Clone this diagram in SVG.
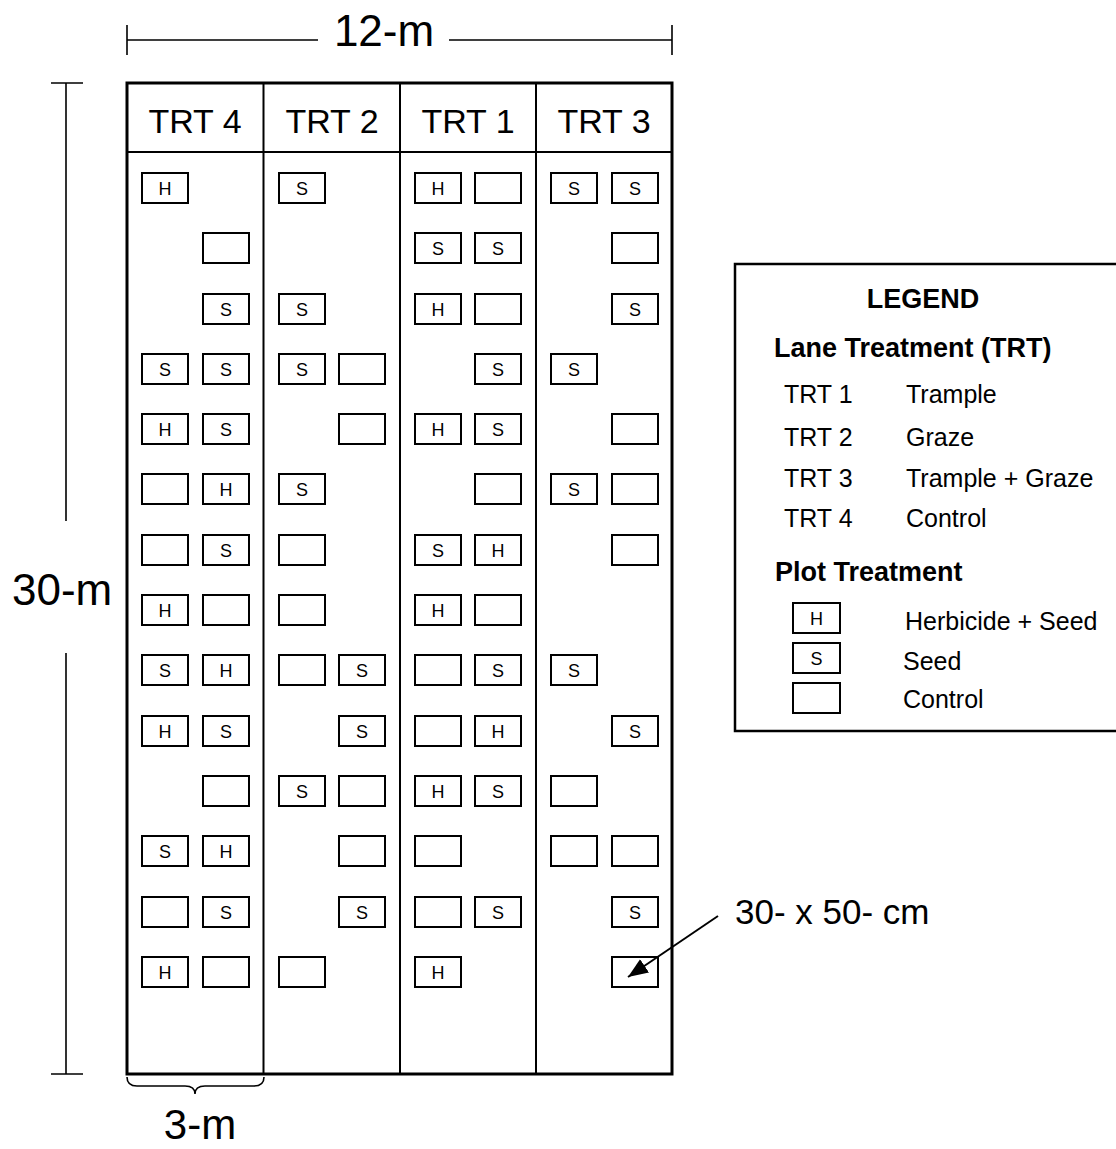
<svg xmlns="http://www.w3.org/2000/svg" width="1116" height="1149" viewBox="0 0 1116 1149">
<style>
text{font-family:"Liberation Sans",Arial,sans-serif;fill:#000}
.plot rect{fill:#fff;stroke:#000;stroke-width:2}
.plot text{font-size:18px;text-anchor:middle}
.dim{stroke:#000;stroke-width:1.6;fill:none}
.big{font-size:44px}
.hdr{font-size:34px;text-anchor:middle}
.lg{font-size:25px}
.lgb{font-size:27px;font-weight:bold}
</style>
<defs>
<marker id="ah" viewBox="0 0 10 10" refX="10" refY="5" markerWidth="10" markerHeight="10" markerUnits="strokeWidth" orient="auto">
<path d="M0,1 L10,5 L0,9 z" fill="#000"/>
</marker>
</defs>
<rect width="1116" height="1149" fill="#fff"/>

<g id="dimensions">
<path class="dim" d="M127,40 H318 M449,40 H672 M127,25 V55 M672,25 V55"/>
<text class="big" x="384" y="46" text-anchor="middle">12-m</text>
<path class="dim" d="M66,83 V521 M66,653 V1074 M51,83 H83 M51,1074 H83"/>
<text class="big" x="12" y="605">30-m</text>
<path class="dim" d="M127,1077 Q127,1086 137,1086 L185,1086 Q195,1086 195,1094 Q195,1086 205,1086 L254,1086 Q264,1086 264,1077"/>
<text x="200" y="1139" font-size="42px" text-anchor="middle">3-m</text>
</g>

<g id="field">
<rect x="127" y="83" width="545" height="991" fill="none" stroke="#000" stroke-width="3"/>
<path d="M127,152 H672 M263.5,83 V1074 M400,83 V1074 M536,83 V1074" stroke="#000" stroke-width="2" fill="none"/>
<text class="hdr" x="195" y="133">TRT 4</text>
<text class="hdr" x="332" y="133">TRT 2</text>
<text class="hdr" x="468" y="133">TRT 1</text>
<text class="hdr" x="604" y="133">TRT 3</text>
</g>

<g id="plots">
<!-- row 1 -->
<g class="plot" id="r1c1" transform="translate(142,173)"><rect width="46" height="30"/><text x="23" y="21.5">H</text></g>
<g class="plot" id="r1c3" transform="translate(279,173)"><rect width="46" height="30"/><text x="23" y="21.5">S</text></g>
<g class="plot" id="r1c5" transform="translate(415,173)"><rect width="46" height="30"/><text x="23" y="21.5">H</text></g>
<g class="plot" id="r1c6" transform="translate(475,173)"><rect width="46" height="30"/></g>
<g class="plot" id="r1c7" transform="translate(551,173)"><rect width="46" height="30"/><text x="23" y="21.5">S</text></g>
<g class="plot" id="r1c8" transform="translate(612,173)"><rect width="46" height="30"/><text x="23" y="21.5">S</text></g>
<!-- row 2 -->
<g class="plot" id="r2c2" transform="translate(203,233)"><rect width="46" height="30"/></g>
<g class="plot" id="r2c5" transform="translate(415,233)"><rect width="46" height="30"/><text x="23" y="21.5">S</text></g>
<g class="plot" id="r2c6" transform="translate(475,233)"><rect width="46" height="30"/><text x="23" y="21.5">S</text></g>
<g class="plot" id="r2c8" transform="translate(612,233)"><rect width="46" height="30"/></g>
<!-- row 3 -->
<g class="plot" id="r3c2" transform="translate(203,294)"><rect width="46" height="30"/><text x="23" y="21.5">S</text></g>
<g class="plot" id="r3c3" transform="translate(279,294)"><rect width="46" height="30"/><text x="23" y="21.5">S</text></g>
<g class="plot" id="r3c5" transform="translate(415,294)"><rect width="46" height="30"/><text x="23" y="21.5">H</text></g>
<g class="plot" id="r3c6" transform="translate(475,294)"><rect width="46" height="30"/></g>
<g class="plot" id="r3c8" transform="translate(612,294)"><rect width="46" height="30"/><text x="23" y="21.5">S</text></g>
<!-- row 4 -->
<g class="plot" id="r4c1" transform="translate(142,354)"><rect width="46" height="30"/><text x="23" y="21.5">S</text></g>
<g class="plot" id="r4c2" transform="translate(203,354)"><rect width="46" height="30"/><text x="23" y="21.5">S</text></g>
<g class="plot" id="r4c3" transform="translate(279,354)"><rect width="46" height="30"/><text x="23" y="21.5">S</text></g>
<g class="plot" id="r4c4" transform="translate(339,354)"><rect width="46" height="30"/></g>
<g class="plot" id="r4c6" transform="translate(475,354)"><rect width="46" height="30"/><text x="23" y="21.5">S</text></g>
<g class="plot" id="r4c7" transform="translate(551,354)"><rect width="46" height="30"/><text x="23" y="21.5">S</text></g>
<!-- row 5 -->
<g class="plot" id="r5c1" transform="translate(142,414)"><rect width="46" height="30"/><text x="23" y="21.5">H</text></g>
<g class="plot" id="r5c2" transform="translate(203,414)"><rect width="46" height="30"/><text x="23" y="21.5">S</text></g>
<g class="plot" id="r5c4" transform="translate(339,414)"><rect width="46" height="30"/></g>
<g class="plot" id="r5c5" transform="translate(415,414)"><rect width="46" height="30"/><text x="23" y="21.5">H</text></g>
<g class="plot" id="r5c6" transform="translate(475,414)"><rect width="46" height="30"/><text x="23" y="21.5">S</text></g>
<g class="plot" id="r5c8" transform="translate(612,414)"><rect width="46" height="30"/></g>
<!-- row 6 -->
<g class="plot" id="r6c1" transform="translate(142,474)"><rect width="46" height="30"/></g>
<g class="plot" id="r6c2" transform="translate(203,474)"><rect width="46" height="30"/><text x="23" y="21.5">H</text></g>
<g class="plot" id="r6c3" transform="translate(279,474)"><rect width="46" height="30"/><text x="23" y="21.5">S</text></g>
<g class="plot" id="r6c6" transform="translate(475,474)"><rect width="46" height="30"/></g>
<g class="plot" id="r6c7" transform="translate(551,474)"><rect width="46" height="30"/><text x="23" y="21.5">S</text></g>
<g class="plot" id="r6c8" transform="translate(612,474)"><rect width="46" height="30"/></g>
<!-- row 7 -->
<g class="plot" id="r7c1" transform="translate(142,535)"><rect width="46" height="30"/></g>
<g class="plot" id="r7c2" transform="translate(203,535)"><rect width="46" height="30"/><text x="23" y="21.5">S</text></g>
<g class="plot" id="r7c3" transform="translate(279,535)"><rect width="46" height="30"/></g>
<g class="plot" id="r7c5" transform="translate(415,535)"><rect width="46" height="30"/><text x="23" y="21.5">S</text></g>
<g class="plot" id="r7c6" transform="translate(475,535)"><rect width="46" height="30"/><text x="23" y="21.5">H</text></g>
<g class="plot" id="r7c8" transform="translate(612,535)"><rect width="46" height="30"/></g>
<!-- row 8 -->
<g class="plot" id="r8c1" transform="translate(142,595)"><rect width="46" height="30"/><text x="23" y="21.5">H</text></g>
<g class="plot" id="r8c2" transform="translate(203,595)"><rect width="46" height="30"/></g>
<g class="plot" id="r8c3" transform="translate(279,595)"><rect width="46" height="30"/></g>
<g class="plot" id="r8c5" transform="translate(415,595)"><rect width="46" height="30"/><text x="23" y="21.5">H</text></g>
<g class="plot" id="r8c6" transform="translate(475,595)"><rect width="46" height="30"/></g>
<!-- row 9 -->
<g class="plot" id="r9c1" transform="translate(142,655)"><rect width="46" height="30"/><text x="23" y="21.5">S</text></g>
<g class="plot" id="r9c2" transform="translate(203,655)"><rect width="46" height="30"/><text x="23" y="21.5">H</text></g>
<g class="plot" id="r9c3" transform="translate(279,655)"><rect width="46" height="30"/></g>
<g class="plot" id="r9c4" transform="translate(339,655)"><rect width="46" height="30"/><text x="23" y="21.5">S</text></g>
<g class="plot" id="r9c5" transform="translate(415,655)"><rect width="46" height="30"/></g>
<g class="plot" id="r9c6" transform="translate(475,655)"><rect width="46" height="30"/><text x="23" y="21.5">S</text></g>
<g class="plot" id="r9c7" transform="translate(551,655)"><rect width="46" height="30"/><text x="23" y="21.5">S</text></g>
<!-- row 10 -->
<g class="plot" id="r10c1" transform="translate(142,716)"><rect width="46" height="30"/><text x="23" y="21.5">H</text></g>
<g class="plot" id="r10c2" transform="translate(203,716)"><rect width="46" height="30"/><text x="23" y="21.5">S</text></g>
<g class="plot" id="r10c4" transform="translate(339,716)"><rect width="46" height="30"/><text x="23" y="21.5">S</text></g>
<g class="plot" id="r10c5" transform="translate(415,716)"><rect width="46" height="30"/></g>
<g class="plot" id="r10c6" transform="translate(475,716)"><rect width="46" height="30"/><text x="23" y="21.5">H</text></g>
<g class="plot" id="r10c8" transform="translate(612,716)"><rect width="46" height="30"/><text x="23" y="21.5">S</text></g>
<!-- row 11 -->
<g class="plot" id="r11c2" transform="translate(203,776)"><rect width="46" height="30"/></g>
<g class="plot" id="r11c3" transform="translate(279,776)"><rect width="46" height="30"/><text x="23" y="21.5">S</text></g>
<g class="plot" id="r11c4" transform="translate(339,776)"><rect width="46" height="30"/></g>
<g class="plot" id="r11c5" transform="translate(415,776)"><rect width="46" height="30"/><text x="23" y="21.5">H</text></g>
<g class="plot" id="r11c6" transform="translate(475,776)"><rect width="46" height="30"/><text x="23" y="21.5">S</text></g>
<g class="plot" id="r11c7" transform="translate(551,776)"><rect width="46" height="30"/></g>
<!-- row 12 -->
<g class="plot" id="r12c1" transform="translate(142,836)"><rect width="46" height="30"/><text x="23" y="21.5">S</text></g>
<g class="plot" id="r12c2" transform="translate(203,836)"><rect width="46" height="30"/><text x="23" y="21.5">H</text></g>
<g class="plot" id="r12c4" transform="translate(339,836)"><rect width="46" height="30"/></g>
<g class="plot" id="r12c5" transform="translate(415,836)"><rect width="46" height="30"/></g>
<g class="plot" id="r12c7" transform="translate(551,836)"><rect width="46" height="30"/></g>
<g class="plot" id="r12c8" transform="translate(612,836)"><rect width="46" height="30"/></g>
<!-- row 13 -->
<g class="plot" id="r13c1" transform="translate(142,897)"><rect width="46" height="30"/></g>
<g class="plot" id="r13c2" transform="translate(203,897)"><rect width="46" height="30"/><text x="23" y="21.5">S</text></g>
<g class="plot" id="r13c4" transform="translate(339,897)"><rect width="46" height="30"/><text x="23" y="21.5">S</text></g>
<g class="plot" id="r13c5" transform="translate(415,897)"><rect width="46" height="30"/></g>
<g class="plot" id="r13c6" transform="translate(475,897)"><rect width="46" height="30"/><text x="23" y="21.5">S</text></g>
<g class="plot" id="r13c8" transform="translate(612,897)"><rect width="46" height="30"/><text x="23" y="21.5">S</text></g>
<!-- row 14 -->
<g class="plot" id="r14c1" transform="translate(142,957)"><rect width="46" height="30"/><text x="23" y="21.5">H</text></g>
<g class="plot" id="r14c2" transform="translate(203,957)"><rect width="46" height="30"/></g>
<g class="plot" id="r14c3" transform="translate(279,957)"><rect width="46" height="30"/></g>
<g class="plot" id="r14c5" transform="translate(415,957)"><rect width="46" height="30"/><text x="23" y="21.5">H</text></g>
<g class="plot" id="r14c8" transform="translate(612,957)"><rect width="46" height="30"/></g>
</g>

<g id="size-label">
<text x="735" y="924" font-size="35px">30- x 50- cm</text>
</g>

<g id="connectors">
<line x1="718" y1="916" x2="628" y2="977" stroke="#000" stroke-width="2" marker-end="url(#ah)"/>
</g>

<g id="legend">
<rect x="735" y="264" width="420" height="467" fill="none" stroke="#000" stroke-width="2.5"/>
<text class="lgb" x="923" y="308" text-anchor="middle">LEGEND</text>
<text class="lgb" x="774" y="357">Lane Treatment (TRT)</text>
<text class="lg" x="784" y="403">TRT 1</text><text class="lg" x="906" y="403">Trample</text>
<text class="lg" x="784" y="446">TRT 2</text><text class="lg" x="906" y="446">Graze</text>
<text class="lg" x="784" y="487">TRT 3</text><text class="lg" x="906" y="487">Trample + Graze</text>
<text class="lg" x="784" y="527">TRT 4</text><text class="lg" x="906" y="527">Control</text>
<text class="lgb" x="775" y="581">Plot Treatment</text>
<g class="plot" id="leg-h" transform="translate(793,603)"><rect width="47" height="30"/><text x="23.5" y="21.5">H</text></g>
<g class="plot" id="leg-s" transform="translate(793,643)"><rect width="47" height="30"/><text x="23.5" y="21.5">S</text></g>
<g class="plot" id="leg-c" transform="translate(793,683)"><rect width="47" height="30"/></g>
<text class="lg" x="905" y="630">Herbicide + Seed</text>
<text class="lg" x="903" y="670">Seed</text>
<text class="lg" x="903" y="708">Control</text>
</g>
</svg>
